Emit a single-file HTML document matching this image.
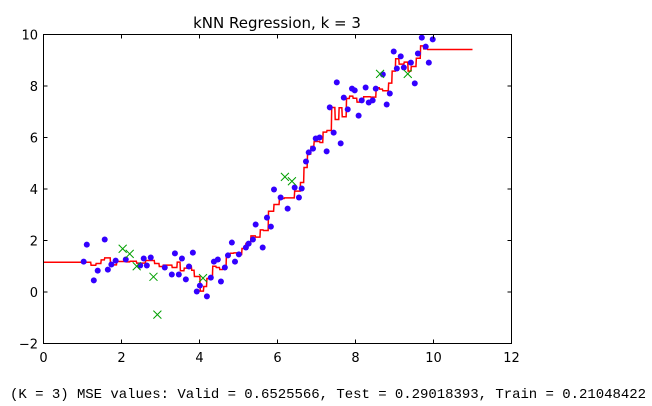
<!DOCTYPE html>
<html><head><meta charset="utf-8"><style>
html,body{margin:0;padding:0;background:#fff;width:652px;height:406px;overflow:hidden}
svg text{font-family:"DejaVu Sans","Liberation Sans",sans-serif}
</style></head><body>
<svg id="chart" width="652" height="406" xmlns="http://www.w3.org/2000/svg">
<text x="277" y="28" font-size="15" text-anchor="middle">kNN Regression, k = 3</text>
<g id="plot"></g>
<rect x="43.5" y="34.5" width="468" height="309" fill="none" stroke="#000" stroke-width="1"/>
<g id="ticks"></g>
<text x="10" y="398" font-size="14" textLength="636" style="font-family:'Liberation Mono',monospace">(K = 3) MSE values: Valid = 0.6525566, Test = 0.29018393, Train = 0.21048422</text>
</svg>
<script>
const trainX=[1.03,1.11,1.29,1.39,1.57,1.65,1.74,1.85,2.11,2.48,2.57,2.65,2.75,3.11,3.29,3.37,3.47,3.55,3.65,3.73,3.83,3.93,4.01,4.19,4.29,4.37,4.47,4.55,4.65,4.73,4.83,4.91,5.01,5.19,5.26,5.37,5.44,5.62,5.73,5.83,5.91,6.08,6.26,6.44,6.55,6.62,6.73,6.80,6.91,6.98,7.08,7.26,7.34,7.44,7.52,7.62,7.70,7.80,7.91,7.98,8.08,8.16,8.26,8.34,8.44,8.52,8.70,8.80,8.88,8.98,9.06,9.16,9.24,9.42,9.52,9.60,9.70,9.80,9.88,9.98];
const trainY=[1.18,1.84,0.45,0.83,2.04,0.87,1.07,1.22,1.26,1.03,1.30,1.03,1.34,0.95,0.68,1.50,0.68,1.30,0.49,0.99,1.53,0.02,0.25,-0.17,0.56,1.18,1.26,0.41,0.95,1.42,1.92,1.18,1.46,1.73,1.88,2.04,2.62,1.73,2.89,2.54,3.98,3.67,3.24,4.06,3.67,4.02,5.07,5.42,5.57,5.96,6.00,5.46,7.17,6.19,8.14,5.77,7.55,7.09,7.90,7.83,6.85,7.44,7.94,7.36,7.44,7.90,8.45,7.28,7.71,9.34,8.68,9.15,8.72,8.91,8.10,9.26,9.88,9.53,8.91,9.81];
const validX=[2.03,2.21,2.39,2.82,2.92,4.09,6.19,6.37,8.63,9.34];
const validY=[1.68,1.48,1.00,0.59,-0.88,0.54,4.47,4.30,8.47,8.47];
const xTicks=[0,2,4,6,8,10,12];
const yTicks=[-2,0,2,4,6,8,10];
const K=3;
const X0=43.5,X1=511.5,Y0=343.5,Y1=34.5;
const sx=v=>X0+(v-0)/(12-0)*(X1-X0);
const sy=v=>Y0-(v+2)/(12)*(Y0-Y1);
const NS="http://www.w3.org/2000/svg";
const plot=document.getElementById('plot'),ticks=document.getElementById('ticks');
function mk(t,a,p){const e=document.createElementNS(NS,t);for(const k in a)e.setAttribute(k,a[k]);p.appendChild(e);return e;}
// kNN prediction curve
function pred(x){const d=trainX.map((v,i)=>[Math.abs(v-x),trainY[i]]).sort((a,b)=>a[0]-b[0]);let s=0;for(let i=0;i<K;i++)s+=d[i][1];return s/K;}
let pts=[];for(let i=0;i<=1100;i++){const x=i*0.01;pts.push(sx(x).toFixed(2)+','+sy(pred(x)).toFixed(2));}
const line=mk('polyline',{points:pts.join(' '),fill:'none',stroke:'#ff0000','stroke-width':1.5},plot);


trainX.forEach((x,i)=>{const c=mk('circle',{cx:sx(x),cy:sy(trainY[i]),r:3,fill:'#3300ff'},plot);

});
validX.forEach((x,i)=>{const cx=sx(x),cy=sy(validY[i]),h=4;
const g=mk('path',{d:`M${cx-h},${cy-h}L${cx+h},${cy+h}M${cx-h},${cy+h}L${cx+h},${cy-h}`,stroke:'#00a000','stroke-width':1,fill:'none'},plot);

});
xTicks.forEach(v=>{const x=sx(v);
mk('path',{d:`M${x},${Y0}v-4M${x},${Y1}v4`,stroke:'#000','stroke-width':1},ticks);
const t=mk('text',{x:x,y:362,'font-size':13,'text-anchor':'middle'},ticks);t.textContent=v<0?'\u2212'+(-v):v;

});
yTicks.forEach(v=>{const y=sy(v);
mk('path',{d:`M${X0},${y}h4M${X1},${y}h-4`,stroke:'#000','stroke-width':1},ticks);
const t=mk('text',{x:38,y:y+5,'font-size':13,'text-anchor':'end'},ticks);t.textContent=v<0?'\u2212'+(-v):v;

});
</script>
</body></html>
